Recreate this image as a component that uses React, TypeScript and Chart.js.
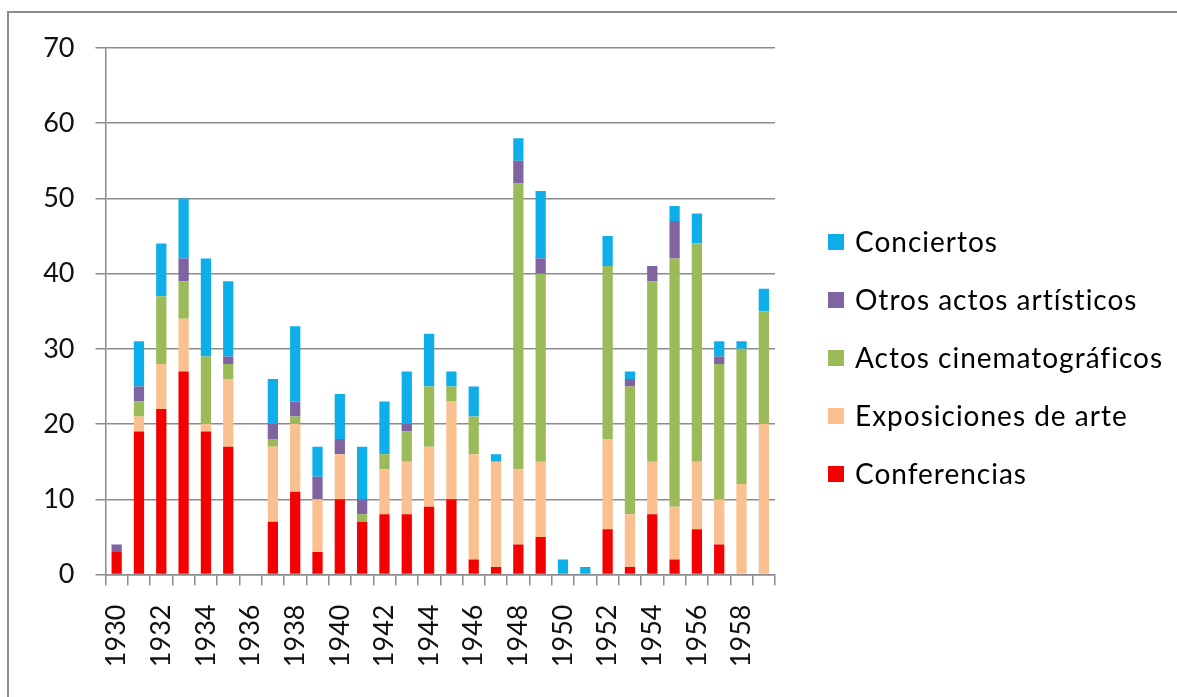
import React, { useEffect, useRef } from "react";
import { Chart, registerables } from "chart.js";

Chart.register(...registerables);

const years = [
  "1930", "1931", "1932", "1933", "1934", "1935", "1936", "1937", "1938", "1939",
  "1940", "1941", "1942", "1943", "1944", "1945", "1946", "1947", "1948", "1949",
  "1950", "1951", "1952", "1953", "1954", "1955", "1956", "1957", "1958", "1959",
];

const conferencias = [3, 19, 22, 27, 19, 17, 0, 7, 11, 3, 10, 7, 8, 8, 9, 10, 2, 1, 4, 5, 0, 0, 6, 1, 8, 2, 6, 4, 0, 0];
const exposiciones = [0, 2, 6, 7, 1, 9, 0, 10, 9, 7, 6, 0, 6, 7, 8, 13, 14, 14, 10, 10, 0, 0, 12, 7, 7, 7, 9, 6, 12, 20];
const cinematograficos = [0, 2, 9, 5, 9, 2, 0, 1, 1, 0, 0, 1, 2, 4, 8, 2, 5, 0, 38, 25, 0, 0, 23, 17, 24, 33, 29, 18, 18, 15];
const otros = [1, 2, 0, 3, 0, 1, 0, 2, 2, 3, 2, 2, 0, 1, 0, 0, 0, 0, 3, 2, 0, 0, 0, 1, 2, 5, 0, 1, 0, 0];
const conciertos = [0, 6, 7, 8, 13, 10, 0, 6, 10, 4, 6, 7, 7, 7, 7, 2, 4, 1, 3, 9, 2, 1, 4, 1, 0, 2, 4, 2, 1, 3];

const seriesNames = ["Conferencias", "Exposiciones de arte", "Actos cinematográficos", "Otros actos artísticos", "Conciertos"];
const seriesColors = ["#F50000", "#FAC090", "#9BBB59", "#8064A2", "#0EAFE8"];

const FONT = "Lato, 'Open Sans', sans-serif";
const GRID = "#8c8c8c";

const legendPlugin = {
  id: "customLegend",
  afterDraw(chart: any) {
    const ctx = chart.ctx;
    const ds = chart.data.datasets;
    ctx.save();
    ctx.font = `28px ${FONT}`;
    try {
      (ctx as any).letterSpacing = "1px";
    } catch (e) {}
    ctx.textBaseline = "middle";
    ctx.textAlign = "left";
    const n = ds.length;
    for (let k = 0; k < n; k++) {
      const d = ds[n - 1 - k];
      const cy = 242 + k * 58;
      ctx.fillStyle = d.backgroundColor;
      ctx.fillRect(828, cy - 8, 16, 16);
      ctx.fillStyle = "#000";
      ctx.fillText(d.label, 855, cy + 1);
    }
    ctx.restore();
  },
};

export default function App() {
  const ref = useRef<HTMLCanvasElement>(null);

  useEffect(() => {
    if (!ref.current) return;
    const values = [conferencias, exposiciones, cinematograficos, otros, conciertos];
    const chart = new Chart(ref.current, {
      type: "bar",
      data: {
        labels: years,
        datasets: values.map((v, i) => ({
          label: seriesNames[i],
          data: v,
          backgroundColor: seriesColors[i],
          borderWidth: 0,
          barPercentage: 0.46,
          categoryPercentage: 1,
        })),
      },
      options: {
        responsive: false,
        animation: false,
        layout: { padding: { left: 0, top: 48, right: 402, bottom: 0 } },
        plugins: {
          legend: { display: false },
          tooltip: { enabled: false },
        },
        scales: {
          x: {
            stacked: true,
            grid: {
              display: true,
              drawOnChartArea: false,
              drawTicks: true,
              tickLength: 11,
              color: GRID,
              lineWidth: 1.5,
            },
            border: { display: true, color: GRID, width: 1.5 },
            ticks: {
              autoSkip: false,
              minRotation: 90,
              maxRotation: 90,
              padding: 19,
              color: "#111",
              font: { family: FONT, size: 27 },
              callback: (_v: any, i: number) => (i % 2 === 0 ? years[i] : ""),
            },
            afterFit: (s: any) => {
              s.height = 122.5;
            },
          },
          y: {
            stacked: true,
            min: 0,
            max: 70,
            grid: { color: GRID, tickLength: 10, lineWidth: 1.5 },
            border: { display: true, color: GRID, width: 1.5 },
            ticks: {
              stepSize: 10,
              padding: 21,
              color: "#111",
              font: { family: FONT, size: 27 },
            },
            afterFit: (s: any) => {
              s.width = 105.5;
            },
          },
        },
      },
      plugins: [legendPlugin],
    });
    return () => chart.destroy();
  }, []);

  return (
    <div
      style={{
        position: "absolute",
        left: 0,
        top: 0,
        width: 1177,
        height: 697,
        overflow: "hidden",
        background: "#fff",
      }}
    >
      <canvas ref={ref} width={1177} height={697} style={{ position: "absolute", left: 0, top: 0 }} />
      <div
        style={{
          position: "absolute",
          left: 7,
          top: 11,
          width: 1400,
          height: 900,
          borderLeft: "2px solid #8c8c8c",
          borderTop: "2px solid #8c8c8c",
          pointerEvents: "none",
        }}
      />
    </div>
  );
}
